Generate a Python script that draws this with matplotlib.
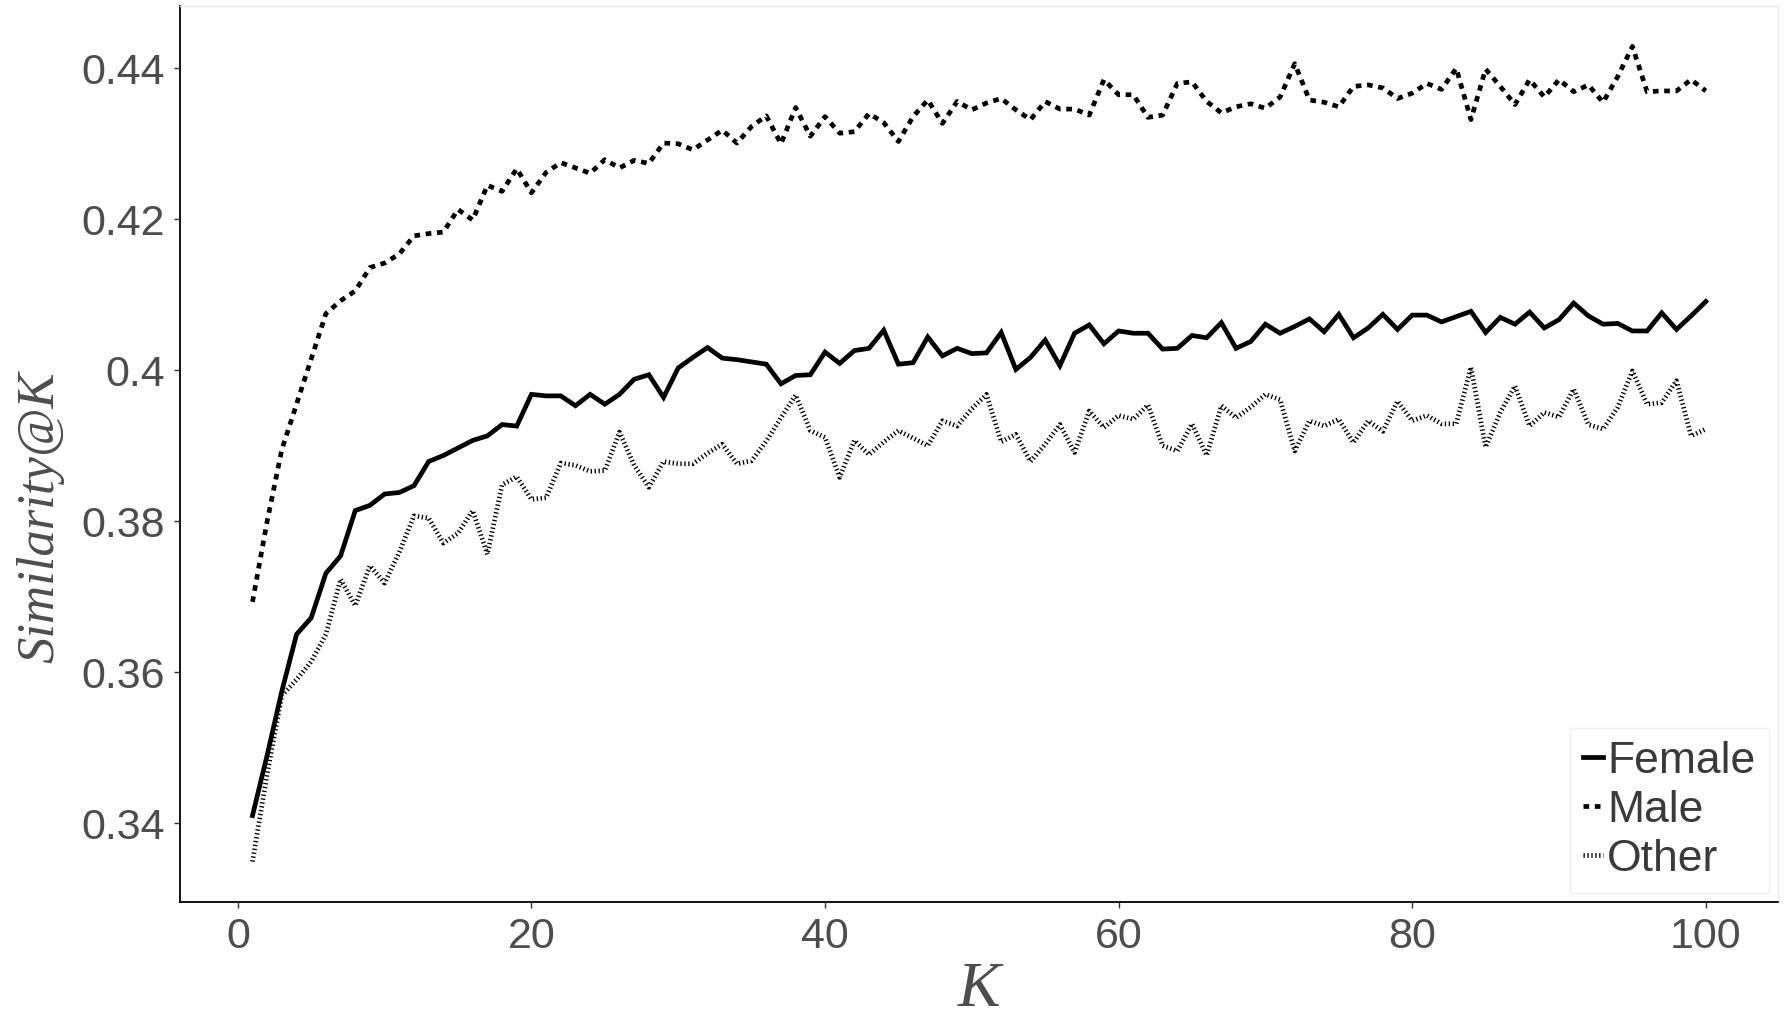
import numpy as np
import matplotlib
matplotlib.use("Agg")
import matplotlib.pyplot as plt

k = np.arange(1, 101)

female = [0.3410, 0.3490, 0.3575, 0.3650, 0.3672, 0.3731, 0.3754, 0.3814, 0.3821, 0.3836,
          0.3838, 0.3847, 0.3879, 0.3887, 0.3897, 0.3907, 0.3913, 0.3928, 0.3926, 0.3968,
          0.3966, 0.3966, 0.3953, 0.3968, 0.3955, 0.3968, 0.3988, 0.3994, 0.3964, 0.4003,
          0.4017, 0.4030, 0.4016, 0.4014, 0.4011, 0.4008, 0.3982, 0.3993, 0.3994, 0.4024,
          0.4009, 0.4026, 0.4029, 0.4053, 0.4008, 0.4010, 0.4044, 0.4019, 0.4029, 0.4022,
          0.4023, 0.4050, 0.4001, 0.4017, 0.4040, 0.4006, 0.4049, 0.4060, 0.4035, 0.4052,
          0.4049, 0.4049, 0.4028, 0.4029, 0.4046, 0.4043, 0.4063, 0.4029, 0.4038, 0.4061,
          0.4049, 0.4058, 0.4068, 0.4051, 0.4074, 0.4043, 0.4056, 0.4074, 0.4054, 0.4073,
          0.4073, 0.4064, 0.4071, 0.4078, 0.4050, 0.4070, 0.4061, 0.4077, 0.4056, 0.4067,
          0.4089, 0.4072, 0.4061, 0.4062, 0.4052, 0.4052, 0.4076, 0.4054, 0.4072, 0.4091]

male = [0.3693, 0.3800, 0.3895, 0.3955, 0.4015, 0.4075, 0.4092, 0.4105, 0.4136, 0.4142,
        0.4154, 0.4178, 0.4181, 0.4183, 0.4213, 0.4199, 0.4245, 0.4237, 0.4267, 0.4235,
        0.4262, 0.4275, 0.4268, 0.4261, 0.4279, 0.4268, 0.4278, 0.4274, 0.4301, 0.4300,
        0.4292, 0.4305, 0.4318, 0.4301, 0.4323, 0.4337, 0.4300, 0.4348, 0.4310, 0.4336,
        0.4314, 0.4316, 0.4340, 0.4328, 0.4303, 0.4336, 0.4358, 0.4327, 0.4356, 0.4345,
        0.4354, 0.4360, 0.4345, 0.4332, 0.4356, 0.4346, 0.4346, 0.4338, 0.4385, 0.4365,
        0.4365, 0.4335, 0.4338, 0.4380, 0.4382, 0.4356, 0.4341, 0.4349, 0.4353, 0.4347,
        0.4362, 0.4406, 0.4358, 0.4355, 0.4349, 0.4376, 0.4378, 0.4374, 0.4360, 0.4367,
        0.4380, 0.4372, 0.4400, 0.4332, 0.4399, 0.4376, 0.4352, 0.4385, 0.4362, 0.4385,
        0.4369, 0.4378, 0.4355, 0.4389, 0.4429, 0.4369, 0.4370, 0.4370, 0.4385, 0.4370]

other = [0.3349, 0.3465, 0.3569, 0.3590, 0.3614, 0.3650, 0.3723, 0.3688, 0.3741, 0.3718,
         0.3759, 0.3807, 0.3804, 0.3771, 0.3784, 0.3814, 0.3756, 0.3848, 0.3859, 0.3829,
         0.3831, 0.3877, 0.3874, 0.3866, 0.3867, 0.3918, 0.3874, 0.3845, 0.3879, 0.3876,
         0.3876, 0.3890, 0.3902, 0.3876, 0.3880, 0.3906, 0.3937, 0.3967, 0.3920, 0.3911,
         0.3858, 0.3907, 0.3888, 0.3905, 0.3920, 0.3910, 0.3900, 0.3933, 0.3926, 0.3949,
         0.3968, 0.3905, 0.3915, 0.3879, 0.3902, 0.3928, 0.3891, 0.3946, 0.3924, 0.3940,
         0.3935, 0.3954, 0.3900, 0.3893, 0.3929, 0.3887, 0.3953, 0.3937, 0.3951, 0.3968,
         0.3961, 0.3893, 0.3933, 0.3926, 0.3935, 0.3904, 0.3933, 0.3919, 0.3959, 0.3933,
         0.3940, 0.3929, 0.3929, 0.4004, 0.3898, 0.3944, 0.3979, 0.3926, 0.3944, 0.3938,
         0.3975, 0.3928, 0.3922, 0.3951, 0.3999, 0.3955, 0.3957, 0.3986, 0.3913, 0.3922]

x_ticks = [0, 20, 40, 60, 80, 100]
y_ticks = [0.34, 0.36, 0.38, 0.40, 0.42, 0.44]
y_tick_labels = ["0.34", "0.36", "0.38", "0.4", "0.42", "0.44"]

grey30 = "#4D4D4D"

fig = plt.figure(figsize=(17.84, 10.29), dpi=100)
ax = fig.add_axes([0.1008, 0.1231, 0.8961, 0.8714])

lw = 3.4
ax.plot(k, female, color="black", lw=lw, solid_joinstyle="miter", label="Female")
ax.plot(k, male, color="black", lw=lw, dashes=(1.2, 1.2), dash_capstyle="butt", label="Male")
ax.plot(k, other, color="black", lw=lw, dashes=(0.28, 0.55), dash_capstyle="butt", label="Other")

# ggplot style 5% expansion
xr = k.max() - k.min()
ax.set_xlim(k.min() - 0.05 * xr, k.max() + 0.05 * xr)
ally = np.concatenate([female, male, other])
yr = ally.max() - ally.min()
ax.set_ylim(ally.min() - 0.05 * yr, ally.max() + 0.05 * yr)

ax.set_xticks(x_ticks)
ax.set_xticklabels([str(t) for t in x_ticks])
ax.set_yticks(y_ticks)
ax.set_yticklabels(y_tick_labels)

for lab in ax.get_xticklabels() + ax.get_yticklabels():
    lab.set_fontfamily("Liberation Sans")
    lab.set_fontsize(31)
    lab.set_color(grey30)

ax.tick_params(axis="both", direction="out", length=4.5, width=1, color="#333333", pad=6)

for s in ["left", "bottom"]:
    ax.spines[s].set_color("black")
    ax.spines[s].set_linewidth(1.3)
for s in ["top", "right"]:
    ax.spines[s].set_color("#EBEBEB")
    ax.spines[s].set_linewidth(1.0)

ax.set_ylabel("Similarity@K", family="Liberation Serif", style="italic",
              fontsize=38, color=grey30)
ax.yaxis.set_label_coords(-0.072, 0.43)
ax.set_xlabel("K", family="Liberation Serif", style="italic",
              fontsize=46, color=grey30, labelpad=4)

leg = ax.legend(loc="lower right", bbox_to_anchor=(0.994, 0.010), borderaxespad=0,
                prop={"family": "Liberation Sans", "size": 32},
                handlelength=0.45, handletextpad=0.1, labelspacing=0.18,
                borderpad=0.3, frameon=True, fancybox=False)
leg.get_frame().set_edgecolor("#EBEBEB")
leg.get_frame().set_linewidth(1.0)
for t in leg.get_texts():
    t.set_color("#3A3A3A")

fig.savefig("out.png", dpi=100)
